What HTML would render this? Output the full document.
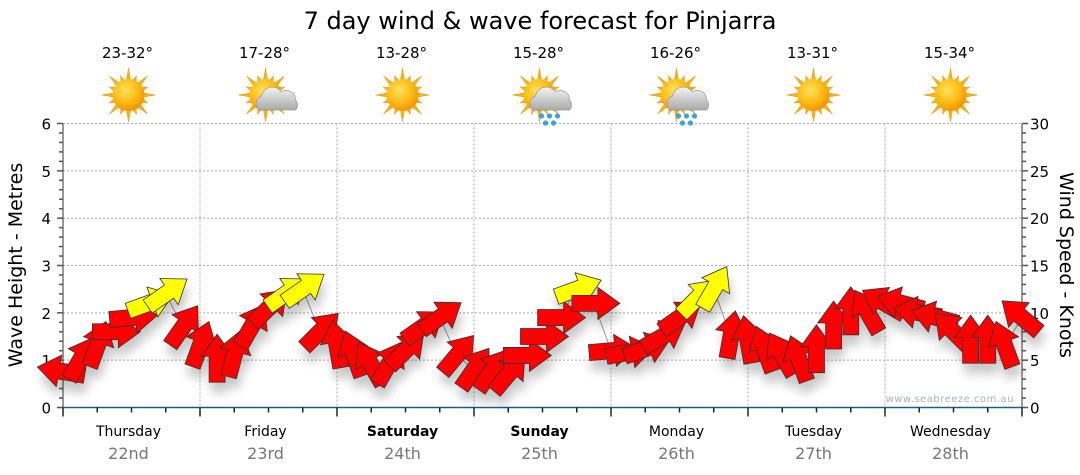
<!DOCTYPE html>
<html><head><meta charset="utf-8"><style>
body{margin:0;background:#fff;}
svg{display:block;font-family:"DejaVu Sans","Liberation Sans",sans-serif;}
</style></head><body>
<svg id="chart" width="1080" height="475" viewBox="0 0 1080 475" xmlns="http://www.w3.org/2000/svg">
<defs>
<filter id="sh" x="-50%" y="-50%" width="200%" height="200%"><feGaussianBlur in="SourceAlpha" stdDeviation="5"/><feOffset dx="2" dy="10"/><feComponentTransfer><feFuncA type="linear" slope="0.22"/></feComponentTransfer><feMerge><feMergeNode/><feMergeNode in="SourceGraphic"/></feMerge></filter>
<radialGradient id="sunG" cx="40%" cy="35%" r="70%"><stop offset="0" stop-color="#ffe25a"/><stop offset="0.6" stop-color="#fdb812"/><stop offset="1" stop-color="#f08c00"/></radialGradient>
<linearGradient id="cloudG" x1="0" y1="0" x2="0" y2="1"><stop offset="0" stop-color="#f4f4f4"/><stop offset="1" stop-color="#a9a9a9"/></linearGradient>
</defs>
<text x="540" y="29" text-anchor="middle" font-size="24" fill="#000">7 day wind &amp; wave forecast for Pinjarra</text>
<g id="grid"></g>
<g id="axes"></g>
<g id="header"></g>
<g id="series"></g>
<text x="1014" y="402" text-anchor="end" font-size="10" fill="#a7b0c0" letter-spacing="0.5">www.seabreeze.com.au</text>
<text transform="translate(22,265) rotate(-90)" text-anchor="middle" font-size="19" fill="#000">Wave Height - Metres</text>
<text transform="translate(1060,265) rotate(90)" text-anchor="middle" font-size="19" fill="#000">Wind Speed - Knots</text>
</svg>
<script>
const days = ["Thursday","Friday","Saturday","Sunday","Monday","Tuesday","Wednesday"];
const dates = ["22nd","23rd","24th","25th","26th","27th","28th"];
const boldDays = [false,false,true,true,false,false,false];
const temps = ["23-32°","17-28°","13-28°","15-28°","16-26°","13-31°","15-34°"];
const icons = ["sun","cloud","sun","rain","rain","sun","sun"];
const waveTicks = [0,1,2,3,4,5,6];
const windTicks = [0,5,10,15,20,25,30];
const hours = [0,3,6,9,12,15,18,21, 24,27,30,33,36,39,42,45, 48,51,54,57,60,63,66,69, 72,75,78,81,84,87,90,93, 96,99,102,105,108,111,114,117, 120,123,126,129,132,135,138,141, 144,147,150,153,156,159,162,165,168];
const windKn = [3.8,5,6.5,8,9.5,11,12,8.5, 6.5,5,5.5,8.5,10.5,12,12.5,8, 6.5,5.5,4.5,4.5,6,8.5,9.5,5.5, 4,3.8,3.5,5.5,7.5,9.5,12.5,11, 6,5.8,6.2,7.5,9.5,11.5,12.5,7.5, 7,6,5.5,5,6,8.5,10,10, 11,11,10,9.5,8,7,7,6.5,9.5];
const windDir = [280,30,20,90,85,70,55,35, 20,0,15,30,45,55,55,45, -10,-20,-30,30,45,55,55,40, 35,35,40,90,90,90,70,90, 85,80,70,60,55,45,30,10, -10,-20,-30,-20,0,0,0,-30, -60,-75,-80,-75,-45,0,0,-20,-50];
const strong = [0,0,0,0,0,1,1,0, 0,0,0,0,0,1,1,0, 0,0,0,0,0,0,0,0, 0,0,0,0,0,0,1,0, 0,0,0,0,0,1,1,0, 0,0,0,0,0,0,0,0, 0,0,0,0,0,0,0,0,0];

const NS="http://www.w3.org/2000/svg";
const X0=63, X1=1022, Y0=407.5, Y6=123.5;
const dayW=(X1-X0)/7;
const xH = h => X0 + h*dayW/24;
const yM = m => Y0 - m*(Y0-Y6)/6;
const yK = k => Y0 - k*(Y0-Y6)/30;
function mk(tag, attrs, parent){const e=document.createElementNS(NS,tag);for(const k in attrs)e.setAttribute(k,attrs[k]);parent.appendChild(e);return e;}
const grid=document.getElementById('grid'), axes=document.getElementById('axes'), header=document.getElementById('header'), series=document.getElementById('series');

waveTicks.forEach(v=>{ if(v===0) return;
  const l=mk('line',{x1:X0,x2:X1,y1:yM(v),y2:yM(v),stroke:'#aaa','stroke-dasharray':'2,2','stroke-width':1},grid);
   
});
for(let d=1; d<7; d++){
  const l=mk('line',{x1:X0+d*dayW,x2:X0+d*dayW,y1:Y6,y2:Y0,stroke:'#aaa','stroke-dasharray':'2,2','stroke-width':1},grid);
   
}
mk('line',{x1:X0,x2:X0,y1:Y6,y2:Y0,stroke:'#333'},axes);
for(let i=0;i<=30;i++){ const y=yM(i*0.2); const major=i%5===0;
  mk('line',{x1:X0-(major?6:4),x2:X0,y1:y,y2:y,stroke:'#555','stroke-width':1.5},axes);}
waveTicks.forEach(v=>{ const t=mk('text',{x:X0-12,y:yM(v)+6,'text-anchor':'end','font-size':15,fill:'#000'},axes); t.textContent=v;
   });
mk('line',{x1:X1,x2:X1,y1:Y6,y2:Y0,stroke:'#333'},axes);
for(let i=0;i<=30;i++){ const y=yK(i); const major=i%5===0;
  mk('line',{x1:X1,x2:X1+(major?6:4),y1:y,y2:y,stroke:'#555','stroke-width':1.5},axes);}
windTicks.forEach(v=>{ const t=mk('text',{x:X1+8,y:yK(v)+6,'font-size':15,fill:'#000'},axes); t.textContent=v;
   });
mk('line',{x1:X0,x2:X1,y1:Y0,y2:Y0,stroke:'#1f5a8a','stroke-width':1.5},axes);
for(let h=0;h<=168;h+=6){ const major=h%24===0;
  mk('line',{x1:xH(h),x2:xH(h),y1:Y0,y2:Y0+(major?9:5),stroke:'#222','stroke-width':1.5},axes);}
days.forEach((d,i)=>{ const cx=X0+dayW*(i+0.5);
  const t=mk('text',{x:cx-3,y:436,'text-anchor':'middle','font-size':14,fill:'#000','font-weight':boldDays[i]?'bold':'normal'},axes); t.textContent=d;
   
  const t2=mk('text',{x:cx-3,y:459,'text-anchor':'middle','font-size':16,fill:'#777'},axes); t2.textContent=dates[i];
   
  const t3=mk('text',{x:cx-4,y:58,'text-anchor':'middle','font-size':15,fill:'#000'},header); t3.textContent=temps[i];
   
  drawIcon(cx-3, 95, icons[i]);
});
function drawIcon(cx,cy,type){
  const g=mk('g',{},header);
   
  for(let a=0;a<16;a++){ const ang=a*Math.PI/8; const L=(a%2===0)?27:21;
    const p1=[cx+Math.cos(ang)*L, cy+Math.sin(ang)*L], pa=[cx+Math.cos(ang+0.14)*15, cy+Math.sin(ang+0.14)*15], pb=[cx+Math.cos(ang-0.14)*15, cy+Math.sin(ang-0.14)*15];
    mk('polygon',{points:`${p1} ${pa} ${pb}`,fill:'#f7b21a',stroke:'#e39a10','stroke-width':0.5},g);}
  mk('circle',{cx:cx,cy:cy,r:16,fill:'url(#sunG)'},g);
  if(type!=='sun'){
    const ox=cx+12, oy=cy+3;
    mk('path',{d:`M${ox-18},${oy+12} a8,8 0 0 1 2,-14 a11,11 0 0 1 20,-4 a9,9 0 0 1 14,8 a7,7 0 0 1 0,10 z`,fill:'url(#cloudG)',stroke:'#999','stroke-width':0.7},g);
    if(type==='rain'){
      [[-10,18],[-2,18],[6,18],[-6,25],[2,25]].forEach(p=>mk('circle',{cx:ox+p[0],cy:oy+p[1],r:2.6,fill:'#3ba3dc'},g));
    }
  }
}
let pts=hours.map((h,i)=>`${xH(h)},${yK(windKn[i])}`).join(' ');
const pl=mk('polyline',{points:pts,fill:'none',stroke:'#999','stroke-width':1},series);
 
const ag=mk('g',{filter:'url(#sh)'},series);
hours.forEach((h,i)=>{
  const x=xH(h), y=yK(windKn[i]);
  const a=mk('polygon',{points:'0,-8 26,-8 26,-16 48,0 26,16 26,8 0,8',
    transform:`translate(${x},${y}) rotate(${windDir[i]-90}) translate(-22,0)`,
    fill:strong[i]?'#ffff00':'#ff0000',stroke:'#333','stroke-width':0.8},ag);
  
  
});
</script>
</body></html>
